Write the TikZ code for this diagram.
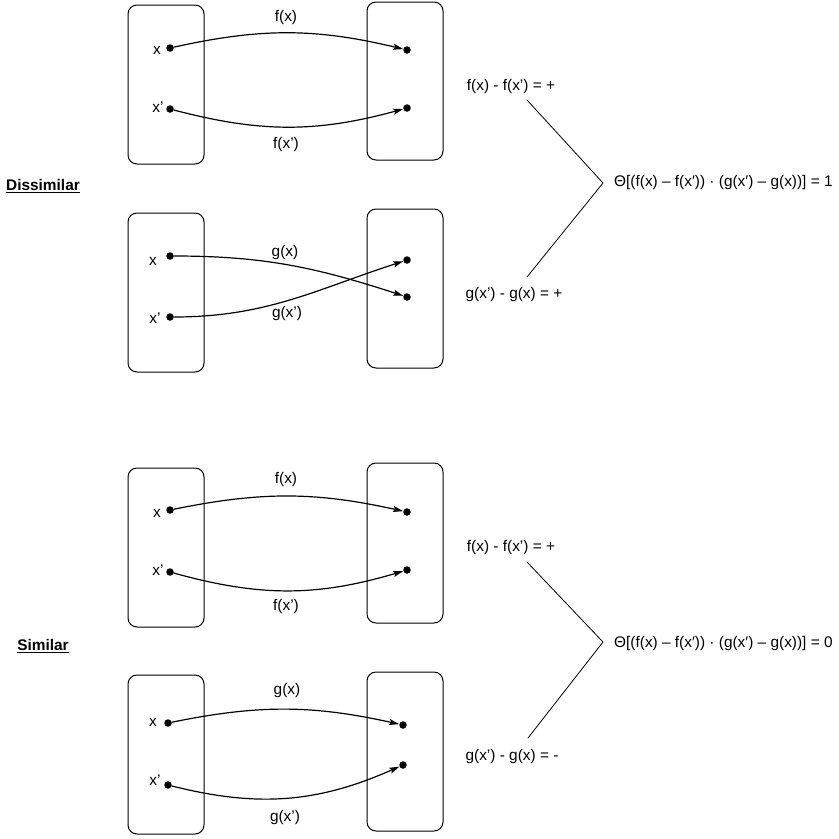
\documentclass[tikz,border=0pt]{standalone}
\usepackage{fontspec}
\setmainfont{Liberation Sans}
\usetikzlibrary{arrows.meta}

\tikzset{
  dot/.style={circle,fill=black,inner sep=0pt,minimum size=7.5pt},
  setbox/.style={rounded corners=9pt,line width=1pt},
  map/.style={-{Stealth[length=10pt,width=6pt,inset=2pt]},line width=1.2pt},
  txt/.style={inner sep=1pt}
}

\begin{document}
\begin{tikzpicture}[x=1pt,y=1pt,line cap=round,line join=round,font=\fontsize{15.4}{18}\selectfont]
\useasboundingbox (0,0) rectangle (839,-839);
% Dissimilar: f
\draw[setbox] (128,-5) rectangle (204,-164);
\draw[setbox] (367,-2) rectangle (443,-160);
\node[dot] (dfx) at (170,-48) {};
\node[dot] (dfxp) at (170,-109) {};
\node[dot] (dfy) at (407,-50) {};
\node[dot] (dfyp) at (407,-108) {};
\node[txt] (dfxl) at (157,-50) {x};
\node[txt] (dfxpl) at (158,-107) {x’};
\draw[map] (dfx) to[bend left=13] (dfy);
\draw[map] (dfxp) to[bend right=15] (dfyp);
\node[txt] (dfl) at (286,-18) {f(x)};
\node[txt] (dfpl) at (286,-145) {f(x’)};
% Dissimilar: g
\draw[setbox] (128,-213) rectangle (204,-372);
\draw[setbox] (367,-209) rectangle (443,-368);
\node[dot] (dgx) at (170,-256) {};
\node[dot] (dgxp) at (170,-317) {};
\node[dot] (dgy) at (407,-260) {};
\node[dot] (dgyp) at (407,-297) {};
\node[txt] (dgxl) at (153,-261) {x};
\node[txt] (dgxpl) at (155,-318) {x’};
\draw[map] (dgx) to[out=0,in=162] (dgyp);
\draw[map] (dgxp) to[out=0,in=198] (dgy);
\node[txt] (dgl) at (285,-253) {g(x)};
\node[txt] (dgpl) at (287,-314) {g(x’)};
% Dissimilar: result
\node[txt] (dis) at (43,-186) {\textbf{\underline{Dissimilar}}};
\node[txt] (dfd) at (511,-87) {f(x) - f(x’) = +};
\node[txt] (dgd) at (514,-295) {g(x’) - g(x) = +};
\coordinate (dtop) at (527,-100);
\coordinate (dv) at (603,-183);
\coordinate (dbot) at (527,-277);
\draw[line width=0.8pt] (dtop) -- (dv) -- (dbot);
\node[txt,anchor=west] (dth) at (613,-183) {Θ[(f(x) – f(x′)) · (g(x′) – g(x))] = 1};
% Similar: f
\draw[setbox] (128,-468) rectangle (204,-627);
\draw[setbox] (367,-463) rectangle (443,-623);
\node[dot] (sfx) at (170,-510) {};
\node[dot] (sfxp) at (170,-572) {};
\node[dot] (sfy) at (407,-512) {};
\node[dot] (sfyp) at (407,-570) {};
\node[txt] (sfxl) at (157,-513) {x};
\node[txt] (sfxpl) at (158,-570) {x’};
\draw[map] (sfx) to[bend left=12] (sfy);
\draw[map] (sfxp) to[bend right=16] (sfyp);
\node[txt] (sfl) at (286,-480) {f(x)};
\node[txt] (sfpl) at (286,-607) {f(x’)};
% Similar: g
\draw[setbox] (128,-675) rectangle (204,-834);
\draw[setbox] (367,-672) rectangle (443,-831);
\node[dot] (sgx) at (168,-723) {};
\node[dot] (sgxp) at (168,-785) {};
\node[dot] (sgy) at (403,-725) {};
\node[dot] (sgyp) at (403,-765) {};
\node[txt] (sgxl) at (153,-722) {x};
\node[txt] (sgxpl) at (155,-780) {x’};
\draw[map] (sgx) to[bend left=12] (sgy);
\draw[map] (sgxp) to[bend right=19] (sgyp);
\node[txt] (sgl) at (287,-691) {g(x)};
\node[txt] (sgpl) at (285,-818) {g(x’)};
% Similar: result
\node[txt] (sim) at (43,-646) {\textbf{\underline{Similar}}};
\node[txt] (sfd) at (511,-548) {f(x) - f(x’) = +};
\node[txt] (sgd) at (512,-757) {g(x’) - g(x) = -};
\coordinate (stop) at (527,-562);
\coordinate (sv) at (603,-642);
\coordinate (sbot) at (528,-738);
\draw[line width=0.8pt] (stop) -- (sv) -- (sbot);
\node[txt,anchor=west] (sth) at (613,-644) {Θ[(f(x) – f(x′)) · (g(x′) – g(x))] = 0};
\end{tikzpicture}
\end{document}
